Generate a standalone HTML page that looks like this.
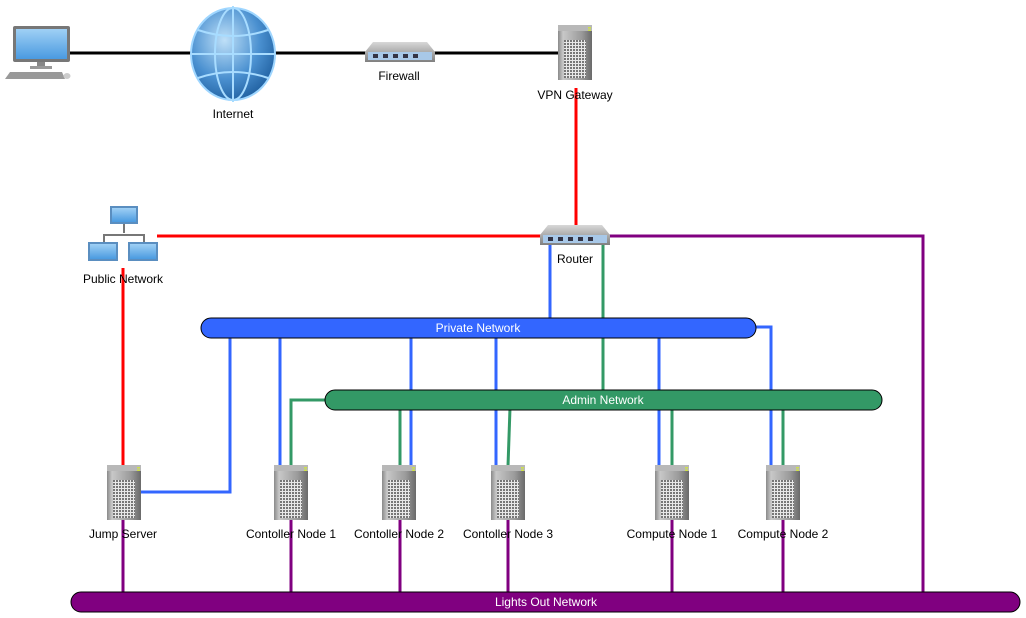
<!DOCTYPE html>
<html><head><meta charset="utf-8"><style>
html,body{margin:0;padding:0;background:#fff;}
svg{display:block;}
text{font-family:"Liberation Sans",sans-serif;font-size:12px;}
</style></head><body>
<svg width="1026" height="618" viewBox="0 0 1026 618" xmlns="http://www.w3.org/2000/svg">
<defs>
<linearGradient id="srv" x1="0" x2="1" y1="0" y2="0">
<stop offset="0" stop-color="#8a8a8a"/><stop offset="0.15" stop-color="#c8c8c8"/><stop offset="0.7" stop-color="#9a9a9a"/><stop offset="1" stop-color="#6a6a6a"/></linearGradient>
<pattern id="grid" width="3" height="3" patternUnits="userSpaceOnUse"><rect width="3" height="3" fill="#e8e8e8"/><rect width="2" height="2" fill="#777"/></pattern>
<radialGradient id="glb" cx="0.4" cy="0.35" r="0.7"><stop offset="0" stop-color="#bfe0f8"/><stop offset="0.6" stop-color="#4a90d0"/><stop offset="1" stop-color="#1f5f9f"/></radialGradient>
<linearGradient id="sw" x1="0" x2="0" y1="0" y2="1"><stop offset="0" stop-color="#d8d8d8"/><stop offset="1" stop-color="#808080"/></linearGradient>
<linearGradient id="scr" x1="0" x2="0" y1="0" y2="1"><stop offset="0" stop-color="#9fd0f5"/><stop offset="1" stop-color="#4a9ae0"/></linearGradient>
<g id="server">
<rect x="0" y="0" width="34" height="55" fill="url(#srv)"/>
<rect x="0" y="0" width="34" height="6" fill="#b8b8b8"/>
<rect x="30" y="2" width="3" height="1.5" fill="#cde04a"/><rect x="30" y="4.5" width="3" height="1.5" fill="#cde04a"/>
<rect x="6" y="15" width="22" height="38" fill="url(#grid)"/>
</g>
<g id="switch">
<path d="M8 0 H62 L70 10 V20 H0 V10 Z" fill="url(#sw)"/>
<rect x="3" y="10" width="64" height="8" fill="#a8c8e8"/>
<g fill="#334">
<rect x="8" y="12" width="5" height="4"/><rect x="18" y="12" width="5" height="4"/><rect x="28" y="12" width="5" height="4"/><rect x="38" y="12" width="5" height="4"/><rect x="48" y="12" width="5" height="4"/></g>
</g>
</defs>

<!-- top black line -->
<line x1="60" y1="53" x2="560" y2="53" stroke="#000" stroke-width="3"/>

<!-- red lines -->
<g stroke="#ff0000" stroke-width="3" fill="none">
<line x1="576" y1="88" x2="576" y2="230"/>
<line x1="157" y1="236" x2="545" y2="236"/>
<line x1="123" y1="268" x2="123" y2="466"/>
</g>
<!-- purple -->
<g stroke="#800080" stroke-width="3" fill="none">
<polyline points="605,236 923,236 923,594"/>
<line x1="123" y1="520" x2="123" y2="594"/>
<line x1="291" y1="520" x2="291" y2="594"/>
<line x1="400" y1="520" x2="400" y2="594"/>
<line x1="508" y1="520" x2="508" y2="594"/>
<line x1="672" y1="520" x2="672" y2="594"/>
<line x1="783" y1="520" x2="783" y2="594"/>
</g>
<!-- blue -->
<g stroke="#3366ff" stroke-width="3" fill="none">
<line x1="550" y1="244" x2="550" y2="320"/>
<polyline points="141,492 230,492 230,336"/>
<line x1="280" y1="336" x2="280" y2="466"/>
<line x1="411" y1="336" x2="411" y2="466"/>
<line x1="496" y1="336" x2="496" y2="466"/>
<line x1="659" y1="336" x2="659" y2="466"/>
<polyline points="754,327 771,327 771,466"/>
</g>
<!-- green -->
<g stroke="#339966" stroke-width="3" fill="none">
<line x1="603" y1="244" x2="603" y2="392"/>
<polyline points="327,400 291,400 291,466"/>
<line x1="400" y1="408" x2="400" y2="466"/>
<line x1="510" y1="408" x2="508" y2="466"/>
<line x1="672" y1="408" x2="672" y2="466"/>
<line x1="783" y1="408" x2="783" y2="466"/>
</g>

<!-- bars -->
<rect x="201" y="318" width="555" height="20" rx="10" fill="#3366ff" stroke="#000" stroke-width="1"/>
<text x="478" y="332" fill="#fff" text-anchor="middle">Private Network</text>
<rect x="325" y="390" width="557" height="20" rx="10" fill="#339966" stroke="#000" stroke-width="1"/>
<text x="603" y="404" fill="#fff" text-anchor="middle">Admin Network</text>
<rect x="71" y="592" width="949" height="20" rx="10" fill="#800080" stroke="#000" stroke-width="1"/>
<text x="546" y="606" fill="#fff" text-anchor="middle">Lights Out Network</text>

<!-- computer -->
<rect x="13" y="26" width="57" height="36" rx="2" fill="#777"/>
<rect x="16" y="29" width="51" height="30" fill="url(#scr)"/>
<rect x="37" y="62" width="8" height="6" fill="#888"/>
<rect x="30" y="66" width="22" height="3" fill="#999"/>
<path d="M10 72 H62 L65 79 H5 Z" fill="#999"/>
<ellipse cx="67" cy="76" rx="3.5" ry="3" fill="#ccc"/>

<!-- globe -->
<ellipse cx="233" cy="54" rx="42" ry="46" fill="url(#glb)" stroke="#9fd6ff" stroke-width="2"/>
<g stroke="#a8dcff" stroke-width="2" fill="none">
<ellipse cx="233" cy="54" rx="18" ry="46"/>
<line x1="191" y1="54" x2="275" y2="54"/>
<path d="M198 30 Q233 42 268 30"/>
<path d="M198 78 Q233 66 268 78"/>
<line x1="233" y1="6" x2="233" y2="102"/>
</g>
<text x="233" y="118" text-anchor="middle">Internet</text>

<!-- firewall -->
<use href="#switch" x="365" y="42"/>
<text x="399" y="80" text-anchor="middle">Firewall</text>

<!-- VPN -->
<use href="#server" x="558" y="25" transform="translate(0,0)"/>
<text x="575" y="99" text-anchor="middle">VPN Gateway</text>

<!-- router -->
<use href="#switch" x="540" y="225"/>
<text x="575" y="263" text-anchor="middle">Router</text>

<!-- public network -->
<g>
<rect x="110" y="206" width="28" height="18" fill="#5a8ec0"/><rect x="112" y="208" width="24" height="14" fill="url(#scr)"/>
<line x1="124" y1="224" x2="124" y2="233" stroke="#777" stroke-width="2"/>
<polyline points="104,242 104,235 144,235 144,242" fill="none" stroke="#777" stroke-width="2"/>
<rect x="88" y="242" width="30" height="19" fill="#5a8ec0"/><rect x="90" y="244" width="26" height="15" fill="url(#scr)"/>
<rect x="128" y="242" width="30" height="19" fill="#5a8ec0"/><rect x="130" y="244" width="26" height="15" fill="url(#scr)"/>
</g>
<text x="123" y="283" text-anchor="middle">Public Network</text>

<!-- servers -->
<use href="#server" x="107" y="465"/>
<use href="#server" x="274" y="465"/>
<use href="#server" x="382" y="465"/>
<use href="#server" x="491" y="465"/>
<use href="#server" x="655" y="465"/>
<use href="#server" x="766" y="465"/>
<g text-anchor="middle">
<text x="123" y="538">Jump Server</text>
<text x="291" y="538">Contoller Node 1</text>
<text x="399" y="538">Contoller Node 2</text>
<text x="508" y="538">Contoller Node 3</text>
<text x="672" y="538">Compute Node 1</text>
<text x="783" y="538">Compute Node 2</text>
</g>
</svg>
</body></html>
